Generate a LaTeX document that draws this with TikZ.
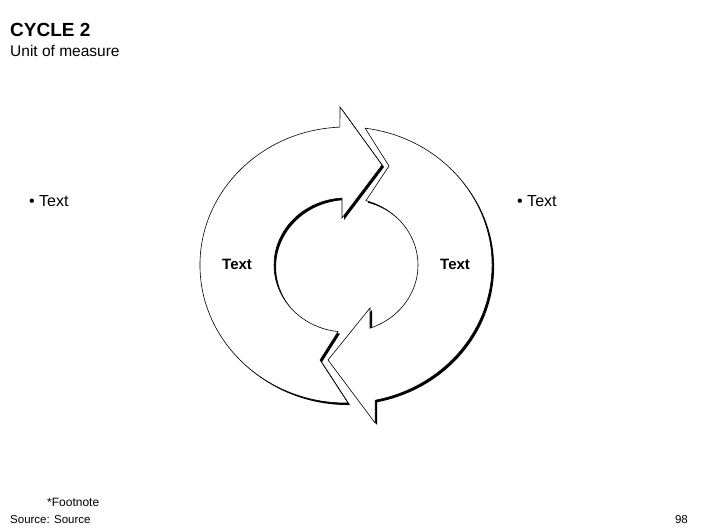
\documentclass[tikz,border=0pt]{standalone}
\usepackage{fontspec}
\setmainfont{Liberation Sans}
\usetikzlibrary{positioning}

% the two halves of the cycle, in pt with y up
\newcommand{\cycleleft}{(339.9,401.9) -- (340,422) -- (382,364) -- (342,311) -- (342.0,330.9)
  arc[start angle=93.2, end angle=263.6, x radius=72, y radius=67] -- (320,169) -- (348.0,126.0)
  arc[start angle=270.8, end angle=92.4, x radius=146, y radius=138] -- cycle}
\newcommand{\cycleright}{(365.1,400.8)
  arc[start angle=82.5, end angle=-78.5, x radius=146, y radius=138] -- (375.1,106) -- (328,169) -- (370,221) -- (370.0,200.8)
  arc[start angle=-70.5, end angle=73.9, x radius=72, y radius=67] -- (389,363) -- cycle}

\begin{document}
\begin{tikzpicture}[x=1pt, y=1pt, dropshade/.style={fill=black, shift={(2,-2)}}, arrowface/.style={fill=white, draw=black, line width=0.6pt}, every node/.style={inner sep=0pt, font=\fontsize{16}{19}\selectfont}]

  \useasboundingbox (0,0) rectangle (706,529);

  \fill[dropshade] \cycleleft;
  \path[arrowface] \cycleleft;
  \fill[dropshade] \cycleright;
  \path[arrowface] \cycleright;

  \node[anchor=base west, font=\bfseries\fontsize{19}{22}\selectfont] (title) at (10,492) {CYCLE 2};
  \node[anchor=base west, font=\fontsize{15.5}{18}\selectfont] (unit) at (10,472) {Unit of measure};
  \node[anchor=base west] (bulletl) at (29,322) {\textbullet\ Text};
  \node[anchor=base west] (bulletr) at (517,322) {\textbullet\ Text};
  \node[anchor=base west, font=\bfseries\fontsize{15}{18}\selectfont] (textl) at (222,259) {Text};
  \node[anchor=base west, font=\bfseries\fontsize{15}{18}\selectfont] (textr) at (440,259) {Text};
  \node[anchor=base west, font=\fontsize{12}{14}\selectfont] (foot) at (47,22) {*Footnote};
  \node[anchor=base west, font=\fontsize{11.5}{14}\selectfont] (source) at (10,5) {Source: Source};
  \node[anchor=base east, font=\fontsize{11.5}{14}\selectfont] (page) at (688,5) {98};
\end{tikzpicture}
\end{document}
